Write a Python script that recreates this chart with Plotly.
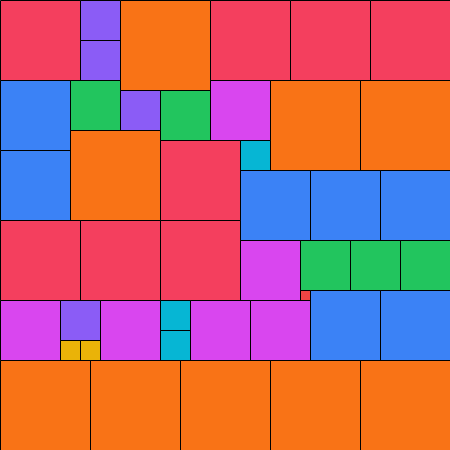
import plotly.graph_objects as go

# Square packing: left, top, side (in chart units), and group
sq_x = [0, 80, 80, 120, 210, 290, 370,
        0, 70, 120, 160, 210, 270, 360, 240,
        0, 70, 160, 240, 310, 380,
        0, 80, 160, 240, 300, 350, 400, 300,
        0, 60, 60, 80, 100, 160, 160, 190, 250, 310, 380,
        0, 90, 180, 270, 360]
sq_y = [0, 0, 40, 0, 0, 0, 0,
        80, 80, 90, 90, 80, 80, 80, 140,
        150, 130, 140, 170, 170, 170,
        220, 220, 220, 240, 240, 240, 240, 290,
        300, 300, 340, 340, 300, 300, 330, 300, 300, 290, 290,
        360, 360, 360, 360, 360]
sq_size = [80, 40, 40, 90, 80, 80, 80,
           70, 50, 40, 50, 60, 90, 90, 30,
           70, 90, 80, 70, 70, 70,
           80, 80, 80, 60, 50, 50, 50, 10,
           60, 40, 20, 20, 60, 30, 30, 60, 60, 70, 70,
           90, 90, 90, 90, 90]

size_colors = {
    90: "#F97316",
    80: "#F43F5E",
    70: "#3B82F6",
    60: "#D946EF",
    50: "#22C55E",
    40: "#8B5CF6",
    30: "#06B6D4",
    20: "#EAB308",
    10: "#EF4444",
}

fig = go.Figure()
shapes = []
for x0, y0, s in zip(sq_x, sq_y, sq_size):
    shapes.append(dict(type="rect", xref="x", yref="y",
                       x0=x0, y0=y0, x1=x0 + s, y1=y0 + s,
                       fillcolor=size_colors[s],
                       line=dict(color="#000000", width=1),
                       layer="above"))
# invisible trace to anchor axes
fig.add_trace(go.Scatter(x=[0, 450], y=[0, 450], mode="markers",
                         marker=dict(opacity=0), hoverinfo="skip", showlegend=False))
fig.update_layout(
    width=450, height=450,
    margin=dict(l=0, r=0, t=0, b=0),
    paper_bgcolor="white", plot_bgcolor="white",
    shapes=shapes,
    xaxis=dict(range=[-0.5, 449.5], visible=False, fixedrange=True),
    yaxis=dict(range=[449.5, -0.5], visible=False, fixedrange=True),
    showlegend=False,
)
fig.write_html("out.html", config={"displayModeBar": False},
               post_script="document.body.style.margin='0';document.body.style.overflow='hidden';")
